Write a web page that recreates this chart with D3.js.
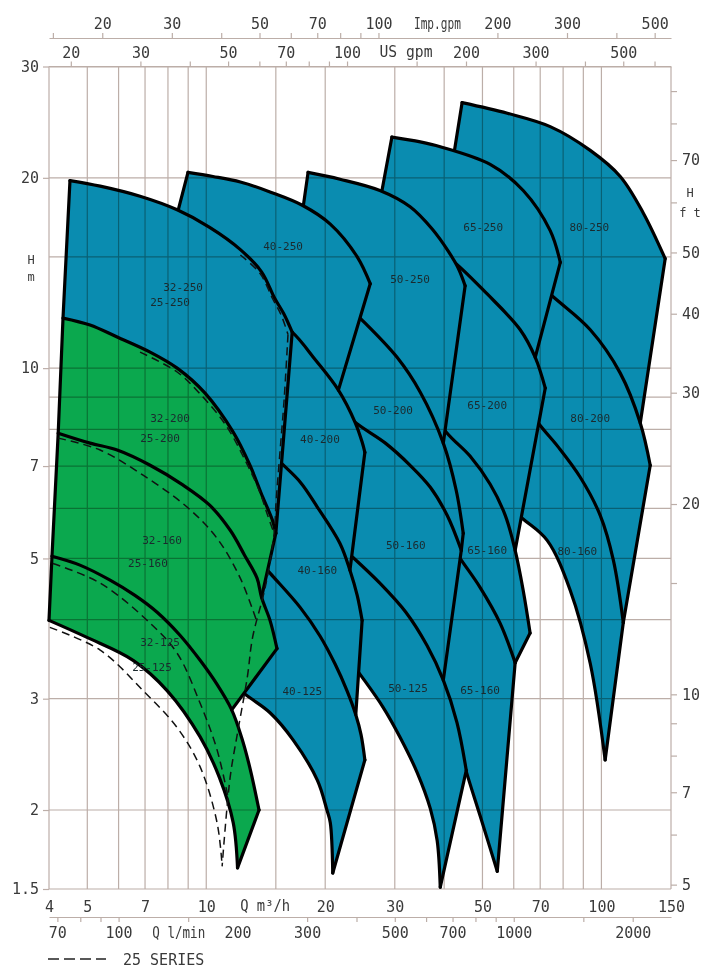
<!DOCTYPE html>
<html>
<head>
<meta charset="utf-8">
<script src="https://cdn.jsdelivr.net/npm/d3@7/dist/d3.min.js"></script>
<style>
body { margin: 0; background: #fff; }
svg text { font-family: "DejaVu Sans Mono", monospace; }
</style>
</head>
<body>
<svg id="chart" width="711" height="968"></svg>
<script>
// Q in m3/h, H in m. Curves, left to right.
const c32_250 = [[4.52,19.8],[5.39,19.4],[6.80,18.7],[8.44,17.8],[10.2,16.7],[12.2,15.4],[13.8,14.2],[14.9,12.9],[15.7,12.2],[16.5,11.4]];
const c32_200 = [[4.34,12.0],[5.08,11.7],[5.95,11.2],[7.21,10.6],[8.44,10.0],[9.93,9.13],[11.7,7.92],[12.9,7.02],[13.9,6.25],[14.7,5.75],[15.0,5.48]];
const c32_160 = [[4.22,7.89],[5.08,7.61],[5.95,7.42],[7.21,7.02],[8.74,6.53],[10.2,6.07],[11.5,5.54],[12.5,5.06],[13.45,4.65],[13.8,4.34],[14.5,3.99],[15.1,3.60]];
const c32_125 = [[4.07,5.04],[4.79,4.88],[5.71,4.62],[6.60,4.37],[7.51,4.11],[8.58,3.78],[9.65,3.45],[10.65,3.16],[11.6,2.88],[12.3,2.60],[12.9,2.33],[13.6,2.00]];
const c32_min = [[4.00,3.99],[4.99,3.75],[6.53,3.45],[7.96,3.09],[9.65,2.61],[10.8,2.25],[11.7,1.91],[12.0,1.62]];

const d25_250 = [[12.2,15.1],[13.7,14.1],[14.7,12.9],[15.5,12.1],[16.1,11.3]];
const d25_edge = [[16.1,11.3],[15.74,8.90],[15.38,7.42],[15.03,6.18],[14.85,5.48],[14.1,4.50],[13.1,3.75],[12.7,3.24],[12.0,2.65],[11.49,2.25],[10.97,1.63]];
const d25_200 = [[6.80,10.6],[8.44,9.86],[9.65,9.10],[11.2,8.13],[12.54,7.15],[13.61,6.41],[14.3,5.85],[14.85,5.48]];
const d25_160 = [[4.22,7.75],[5.39,7.42],[6.92,6.77],[8.94,6.03],[10.65,5.38],[12.2,4.65],[13.45,3.96]];
const d25_125 = [[4.09,4.91],[5.39,4.57],[7.21,3.95],[8.44,3.54],[9.65,2.95],[10.65,2.49],[11.4,2.07]];
const d25_min = [[4.02,3.89],[5.39,3.58],[6.92,3.09],[8.44,2.70],[9.65,2.34],[10.65,1.91],[10.97,1.63]];

const c40_250 = [[8.99,20.4],[10.4,20.1],[12.2,19.7],[14.5,19.0],[17.5,18.1],[20.6,16.9],[24.1,15.0],[26.0,13.6]];
const c40_200 = [[7.87,14.8],[9.65,14.0],[11.8,13.05],[14.1,12.2],[16.5,11.4],[18.9,10.3],[21.6,9.23],[23.8,8.21],[24.8,7.64],[25.2,7.36]];
const c40_160 = [[7.21,10.3],[9.10,9.40],[11.5,8.43],[13.6,7.69],[15.4,7.10],[17.3,6.60],[19.1,6.03],[21.8,5.28],[23.1,4.79],[24.1,4.37],[24.8,3.99]];
const c40_125 = [[6.80,7.15],[8.58,6.41],[10.8,5.64],[12.9,5.15],[14.5,4.74],[17.3,4.18],[19.4,3.77],[21.2,3.40],[22.7,3.09],[23.9,2.83],[24.65,2.63],[25.2,2.40]];
const c40_min = [[6.41,3.68],[7.64,3.58],[9.65,3.39],[11.5,3.17],[12.9,3.01],[14.5,2.85],[16.6,2.58],[19.1,2.23],[20.2,2.00],[20.6,1.91],[20.9,1.59]];

const c50_250 = [[18.1,20.4],[21.8,19.9],[27.5,19.1],[32.8,18.0],[37.3,16.6],[41.0,15.3],[43.4,14.4],[45.2,13.5]];
const c50_200 = [[16.8,14.7],[20.6,13.3],[24.5,12.0],[30.4,10.4],[34.8,9.16],[39.8,7.61],[42.9,6.41],[44.7,5.48]];
const c50_160 = [[15.8,10.7],[19.4,9.23],[23.8,8.21],[28.4,7.61],[32.8,7.02],[36.9,6.48],[40.7,5.85],[44.2,5.15]];
const c50_125 = [[15.2,6.41],[19.4,5.58],[23.5,5.02],[27.5,4.57],[32.0,4.11],[36.2,3.64],[39.8,3.21],[43.1,2.75],[45.5,2.31]];
const c50_min = [[14.5,4.97],[19.4,3.99],[24.4,3.29],[28.0,2.91],[31.0,2.60],[34.2,2.29],[36.9,2.01],[38.4,1.79],[39.1,1.51]];

const c65_250 = [[29.5,23.2],[34.8,22.8],[39.1,22.4],[52.3,21.0],[63.4,19.1],[74.2,16.5],[78.7,14.7]];
const c65_200 = [[26.8,16.8],[34.0,16.1],[41.4,14.9],[51.4,13.1],[62.3,11.5],[68.0,10.4],[72.1,9.30]];
const c65_160 = [[25.2,11.5],[32.8,9.57],[40.5,7.92],[46.5,7.26],[52.3,6.55],[57.1,5.85],[60.5,5.15],[63.4,4.45],[66.0,3.81]];
const c65_125 = [[23.8,7.98],[34.8,6.18],[44.2,4.97],[49.3,4.50],[55.4,3.95],[60.5,3.42]];
const c65_min = [[22.5,5.75],[31.0,4.29],[39.8,3.09],[45.5,2.30],[49.3,1.96],[54.5,1.60]];

const c80_250 = [[44.4,26.3],[57.8,25.3],[74.2,24.1],[93.7,22.1],[111.6,20.1],[127.6,17.6],[145,14.9]];
const c80_200 = [[40.2,17.8],[55.4,15.4],[74.6,13.05],[93.7,11.5],[111.6,9.82],[125.4,8.19],[132.9,7.02]];
const c80_160 = [[36.9,12.8],[52.3,10.5],[69.2,8.19],[77.8,7.50],[88.4,6.72],[99.3,5.85],[107.2,4.97],[113.6,3.96]];
const c80_min = [[34.8,7.69],[46.5,6.77],[63.0,5.79],[72.9,5.34],[83.4,4.45],[93.7,3.41],[102.2,2.40]];

const pumpLabels = ["32-250","25-250","32-200","25-200","32-160","25-160","32-125","25-125",
  "40-250","40-200","40-160","40-125","50-250","50-200","50-160","50-125",
  "65-250","65-200","65-160","65-160","80-250","80-200","80-160"];
const labelQ = [8.74,8.10,8.10,7.64,7.73,7.12,7.64,7.29,15.65,19.4,19.1,17.5,32.8,29.7,32.0,32.4,50.2,51.4,51.4,49.3,93.2,93.7,86.9];
const labelH = [13.4,12.7,8.33,7.75,5.34,4.91,3.68,3.36,15.6,7.72,4.79,3.08,13.8,8.58,5.25,3.11,16.7,8.74,5.15,3.09,16.7,8.33,5.13];

const qLabels = [4,5,7,10,20,30,50,70,100,150];
const qGrid = [4,5,6,7,8,9,10,15,20,30,40,50,60,70,80,90,100,150];
const hLabels = [1.5,2,3,5,7,10,20,30];
const hGrid = [1.5,2,3,4,5,6,7,8,9,10,15,20,30];
const ftTicks = [5,6,7,8,9,10,15,20,30,40,50,60,70,80,90];
const ftLabels = [5,7,10,20,30,40,50,70];
const impTicks = [15,20,30,40,50,60,70,80,90,100,200,300,400,500];
const impLabels = [20,30,50,70,100,200,300,500];
const usTicks = [20,30,40,50,60,70,80,90,100,150,200,300,400,500,600];
const usLabels = [20,30,50,70,100,200,300,500];
const lpmTicks = [70,80,90,100,150,300,400,500,600,700,800,900,1000,1500,2000];
const lpmLabels = [70,100,200,300,500,700,1000,2000];

const US = 4.40287, IMP = 3.66615, LPM = 16.6667, FT = 3.28084;

// families drawn right to left so the left ones sit on top
const families = [
  {curves: [c80_250, c80_200, c80_160, c80_min], cuts: [6, 8, 7]},
  {curves: [c65_250, c65_200, c65_160, c65_125, c65_min], cuts: [6, 7, 6, 6]},
  {curves: [c50_250, c50_200, c50_160, c50_125, c50_min], cuts: [6, 8, 7, 9]},
  {curves: [c40_250, c40_200, c40_160, c40_125, c40_min], cuts: [7, 9, 10, 11]},
  {curves: [c32_250, c32_200, c32_160, c32_125, c32_min], cuts: [11, 10, 9, 8], green: true}
];

const blue = "#0a8cb0", green = "#0ba84e", gridColor = "#bcaea8", textColor = "#3a3a3a";

const svg = d3.select("#chart");
const x = d3.scaleLog().domain([4, 150]).range([49, 671]);
const y = d3.scaleLog().domain([1.5, 30]).range([889, 66.5]);

const smooth = d3.line().x(d => x(d[0])).y(d => y(d[1])).curve(d3.curveCatmullRom.alpha(0.5));
const straight = d3.line().x(d => x(d[0])).y(d => y(d[1]));

function regionPath(top, bottom, cut) {
    let b = bottom.slice(0, cut).reverse();
    return smooth(top) + smooth(b).replace(/^M/, "L") + "Z";
}

families.forEach(function (fam) {
    let g = svg.append("g");
    let n = fam.curves.length;
    for (let i = 0; i < n - 1; i++) {
        let fill = (fam.green && i > 0) ? green : blue;
        g.append("path")
            .attr("d", regionPath(fam.curves[i], fam.curves[i + 1], fam.cuts[i]))
            .attr("fill", fill)
            .attr("stroke", fill)
            .attr("stroke-width", 1);
    }
    let outline = g.append("g")
        .attr("fill", "none")
        .attr("stroke", "#000")
        .attr("stroke-width", 3.2)
        .attr("stroke-linejoin", "round")
        .attr("stroke-linecap", "round");
    fam.curves.forEach(c => outline.append("path").attr("d", smooth(c)));
    outline.append("path").attr("d", straight(fam.curves.map(c => c[0])));
    for (let i = 0; i < n - 1; i++) {
        let top = fam.curves[i];
        let bottom = fam.curves[i + 1];
        outline.append("path").attr("d", straight([top[top.length - 1], bottom[fam.cuts[i] - 1]]));
    }
});

// grid over the coloured areas
let grid = svg.append("g")
    .style("mix-blend-mode", "multiply")
    .attr("stroke", gridColor)
    .attr("stroke-width", 1.2);
grid.selectAll("line.v").data(qGrid).join("line").attr("class", "v")
    .attr("x1", d => x(d)).attr("x2", d => x(d))
    .attr("y1", y(30)).attr("y2", y(1.5));
grid.selectAll("line.h").data(hGrid).join("line").attr("class", "h")
    .attr("x1", x(4)).attr("x2", x(150))
    .attr("y1", d => y(d)).attr("y2", d => y(d));

// 25 series
let dash = svg.append("g")
    .attr("fill", "none")
    .attr("stroke", "#111")
    .attr("stroke-width", 1.5)
    .attr("stroke-dasharray", "8,5");
[d25_250, d25_edge, d25_200, d25_160, d25_125, d25_min].forEach(c => dash.append("path").attr("d", smooth(c)));

svg.append("g").selectAll("text").data(pumpLabels).join("text")
    .attr("x", (d, i) => x(labelQ[i]))
    .attr("y", (d, i) => y(labelH[i]))
    .attr("text-anchor", "middle")
    .attr("dominant-baseline", "central")
    .attr("font-size", 11)
    .attr("fill", "#1b2a2e")
    .text(d => d);

// axes
function tickAxis(g) {
    g.attr("color", gridColor).attr("font-size", 15);
    g.selectAll("line, path").attr("stroke-width", 1.2);
}
function labelAxis(g) {
    g.attr("font-size", 15);
    g.select(".domain").remove();
    g.selectAll("text").attr("fill", textColor);
}
const fmt = d => String(d);

let imp = d3.scaleLog().domain([4 * IMP, 150 * IMP]).range(x.range());
let us = d3.scaleLog().domain([4 * US, 150 * US]).range(x.range());
let lpm = d3.scaleLog().domain([4 * LPM, 150 * LPM]).range(x.range());
let ft = d3.scaleLog().domain([1.5 * FT, 30 * FT]).range(y.range());

svg.append("g").attr("transform", "translate(0,38)")
    .call(d3.axisTop(imp).tickValues(impTicks).tickSize(5).tickSizeOuter(0).tickFormat("")).call(tickAxis);
svg.append("g").attr("transform", "translate(0,38)")
    .call(d3.axisTop(imp).tickValues(impLabels).tickSize(0).tickPadding(9).tickFormat(fmt)).call(labelAxis);

svg.append("g").attr("transform", "translate(0,66.5)")
    .call(d3.axisTop(us).tickValues(usTicks).tickSize(5).tickSizeOuter(0).tickFormat("")).call(tickAxis);
svg.append("g").attr("transform", "translate(0,66.5)")
    .call(d3.axisTop(us).tickValues(usLabels).tickSize(0).tickPadding(9).tickFormat(fmt)).call(labelAxis);

svg.append("g").attr("transform", "translate(49,0)")
    .call(d3.axisLeft(y).tickValues(hLabels).tickSize(6).tickSizeOuter(0).tickPadding(4).tickFormat(fmt))
    .call(tickAxis).call(g => { g.select(".domain").remove(); g.selectAll("text").attr("fill", textColor); });

svg.append("g").attr("transform", "translate(671,0)")
    .call(d3.axisRight(ft).tickValues(ftTicks).tickSize(6).tickSizeOuter(0).tickFormat(""))
    .call(tickAxis).call(g => g.select(".domain").remove());
svg.append("g").attr("transform", "translate(671,0)")
    .call(d3.axisRight(ft).tickValues(ftLabels).tickSize(0).tickPadding(11).tickFormat(fmt)).call(labelAxis);

svg.append("g").attr("transform", "translate(0,889)")
    .call(d3.axisBottom(x).tickValues(qLabels).tickSize(0).tickPadding(12).tickFormat(fmt)).call(labelAxis);

svg.append("g").attr("transform", "translate(0,917)")
    .call(d3.axisBottom(lpm).tickValues(lpmTicks).tickSize(5).tickSizeOuter(0).tickFormat("")).call(tickAxis);
svg.append("g").attr("transform", "translate(0,917)")
    .call(d3.axisBottom(lpm).tickValues(lpmLabels).tickSize(0).tickPadding(10).tickFormat(fmt)).call(labelAxis);

// axis titles
function title(tx, ty, txt, size, len) {
    let t = svg.append("text")
        .attr("x", tx).attr("y", ty)
        .attr("text-anchor", "middle")
        .attr("font-size", size)
        .attr("fill", textColor)
        .text(txt);
    if (len) t.attr("textLength", len).attr("lengthAdjust", "spacingAndGlyphs");
    return t;
}
title(imp(141), 29, "Imp.gpm", 15, 47);
title(us(141), 57, "US gpm", 15, 53);
title(x(14.1), 911, "Q m\u00b3/h", 15, 50);
title(lpm(142), 938, "Q l/min", 15, 53);
title(31, 264, "H", 12);
title(31, 281, "m", 12);
title(690, 197, "H", 12);
title(690, 217, "f t", 12);

// legend
svg.append("line")
    .attr("x1", 48).attr("x2", 106)
    .attr("y1", 959).attr("y2", 959)
    .attr("stroke", "#222")
    .attr("stroke-width", 1.5)
    .attr("stroke-dasharray", "11,5");
svg.append("text")
    .attr("x", 123).attr("y", 964.5)
    .attr("font-size", 15)
    .attr("fill", textColor)
    .text("25 SERIES");
</script>
</body>
</html>
